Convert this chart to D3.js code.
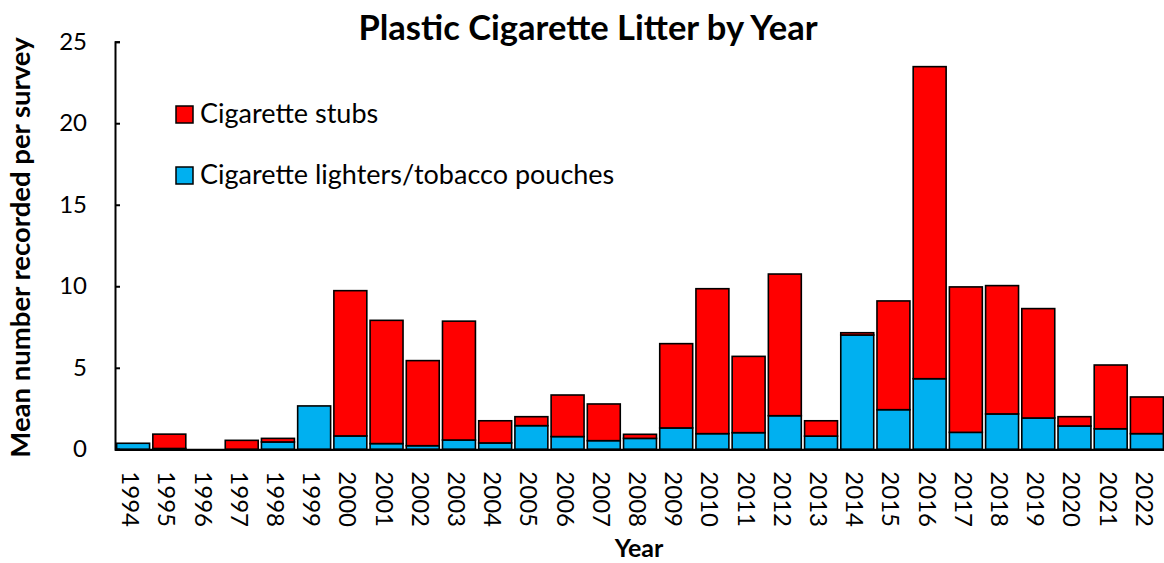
<!DOCTYPE html>
<html>
<head>
<meta charset="utf-8">
<script src="https://cdn.jsdelivr.net/npm/d3@7"></script>
<style>
  html, body { margin: 0; padding: 0; background: #fff; }
  svg { display: block; font-family: Lato, "Open Sans", sans-serif; }
</style>
</head>
<body>
<svg id="chart" width="1164" height="563"></svg>
<script>
// Survey years
const years = ["1994","1995","1996","1997","1998","1999","2000","2001","2002","2003",
  "2004","2005","2006","2007","2008","2009","2010","2011","2012","2013",
  "2014","2015","2016","2017","2018","2019","2020","2021","2022"];

// Mean number recorded per survey: lighters / tobacco pouches (bottom of stack)
const lighters = [0.37, 0.05, 0, 0, 0.45, 2.66, 0.82, 0.35, 0.22, 0.57,
  0.39, 1.45, 0.78, 0.53, 0.67, 1.31, 0.96, 1.02, 2.06, 0.81,
  7.01, 2.43, 4.33, 1.04, 2.17, 1.92, 1.43, 1.26, 0.96];

// Mean number recorded per survey: cigarette stubs (stacked on top)
const stubs = [0, 0.88, 0, 0.55, 0.22, 0, 8.91, 7.56, 5.22, 7.29,
  1.36, 0.55, 2.55, 2.25, 0.25, 5.17, 8.89, 4.68, 8.69, 0.94,
  0.14, 6.67, 19.14, 8.92, 7.87, 6.71, 0.57, 3.91, 2.25];

const yTicks = [0, 5, 10, 15, 20, 25];

const seriesNames = ["Cigarette lighters/tobacco pouches", "Cigarette stubs"];
const colors = { "Cigarette stubs": "#FF0000", "Cigarette lighters/tobacco pouches": "#00B0F0" };

const rows = years.map((yr, i) => ({
  year: yr,
  "Cigarette lighters/tobacco pouches": lighters[i],
  "Cigarette stubs": stubs[i]
}));

const svg = d3.select("#chart");
const plotLeft = 115, plotRight = 1165, plotTop = 41.7, plotBottom = 449.3;

const x = d3.scaleBand().domain(years).range([plotLeft, plotRight])
  .paddingInner(0.09).paddingOuter(0.045);
const y = d3.scaleLinear().domain([0, 25]).range([plotBottom, plotTop]);

const stacked = d3.stack().keys(seriesNames)(rows);

// Stacked bars
svg.append("g").selectAll("g")
  .data(stacked)
  .join("g")
  .attr("fill", d => colors[d.key])
  .selectAll("rect")
  .data(d => d.filter(p => p[1] - p[0] > 0))
  .join("rect")
  .attr("x", d => x(d.data.year))
  .attr("width", x.bandwidth())
  .attr("y", d => y(d[1]))
  .attr("height", d => y(d[0]) - y(d[1]))
  .attr("stroke", "#000")
  .attr("stroke-width", 1.6);

// Y axis with inward ticks
const yAxis = d3.axisLeft(y).tickValues(yTicks).tickSize(-5).tickPadding(28).tickSizeOuter(-5);
const gy = svg.append("g").attr("transform", `translate(${plotLeft},0)`).call(yAxis);
gy.select(".domain").attr("stroke", "#000").attr("stroke-width", 2);
gy.selectAll(".tick line").attr("stroke", "#000").attr("stroke-width", 2);
gy.selectAll(".tick text")
  .attr("font-size", 24).attr("fill", "#000")
  .attr("font-family", "Lato, 'Open Sans', sans-serif");

// X axis: baseline and rotated year labels
const xAxis = d3.axisBottom(x).tickSize(0).tickSizeOuter(0).tickPadding(0);
const gx = svg.append("g").attr("transform", `translate(0,${plotBottom})`).call(xAxis);
gx.select(".domain").attr("stroke", "#000").attr("stroke-width", 2.2);
gx.selectAll(".tick text")
  .attr("font-size", 24).attr("fill", "#000")
  .attr("font-family", "Lato, 'Open Sans', sans-serif")
  .attr("text-anchor", "start")
  .attr("dy", null)
  .attr("transform", "translate(-11,22) rotate(90)");

// Title
svg.append("text")
  .attr("x", 588).attr("y", 40)
  .attr("text-anchor", "middle")
  .attr("font-size", 34.5).attr("font-weight", "bold")
  .text("Plastic Cigarette Litter by Year");

// Axis titles
svg.append("text")
  .attr("x", 639).attr("y", 557)
  .attr("text-anchor", "middle")
  .attr("font-size", 25).attr("font-weight", "bold")
  .text("Year");

svg.append("text")
  .attr("transform", `translate(30,${(plotTop + plotBottom) / 2 + 2}) rotate(-90)`)
  .attr("text-anchor", "middle")
  .attr("font-size", 27.5).attr("font-weight", "bold")
  .text("Mean number recorded per survey");

// Legend
const legendItems = ["Cigarette stubs", "Cigarette lighters/tobacco pouches"];
const lg = svg.append("g").selectAll("g")
  .data(legendItems)
  .join("g")
  .attr("transform", (d, i) => `translate(176,${106 + i * 61})`);
lg.append("rect")
  .attr("width", 17).attr("height", 17)
  .attr("fill", d => colors[d])
  .attr("stroke", "#000").attr("stroke-width", 1.5);
lg.append("text")
  .attr("x", 24).attr("y", 17)
  .attr("font-size", 27)
  .text(d => d);
</script>
</body>
</html>
